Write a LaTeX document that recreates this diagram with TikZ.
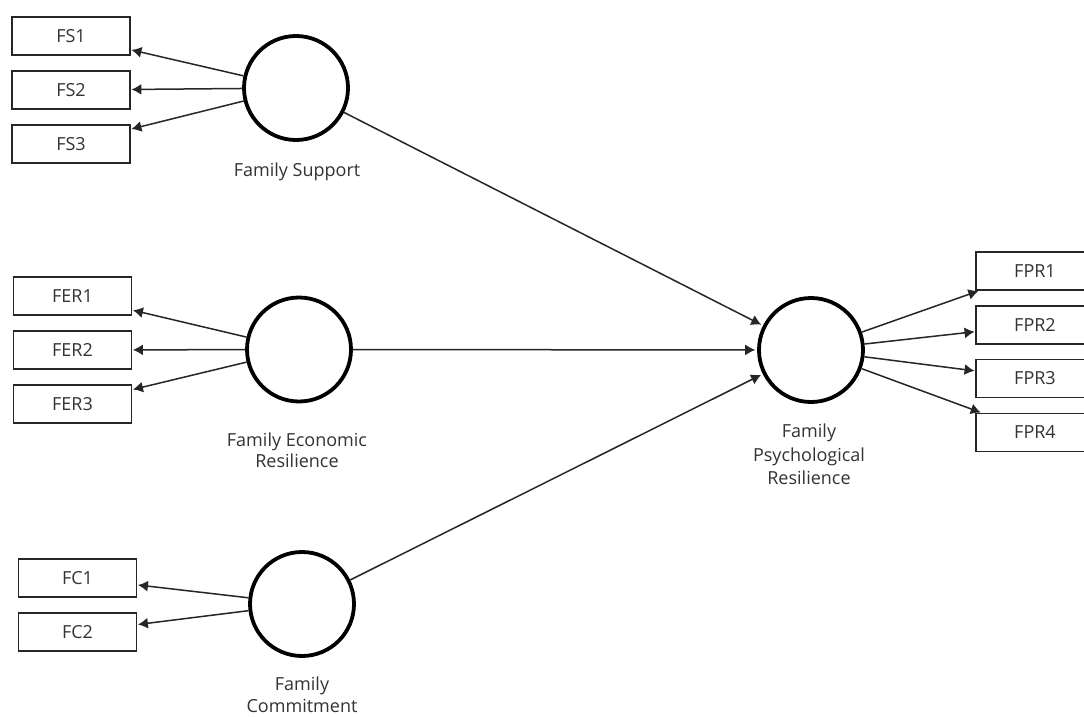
\documentclass[tikz,border=0pt]{standalone}
\usepackage{fontspec}
\setmainfont{Open Sans}
\usetikzlibrary{arrows.meta}
\definecolor{txt}{HTML}{333333}
\tikzset{
  ind/.style={draw=black!85, line width=1.5pt, minimum width=118pt, minimum height=38pt, inner sep=0pt, text=txt, font=\fontsize{18}{21}\selectfont},
  lat/.style={draw=black, circle, line width=3.8pt, minimum size=104pt, inner sep=0pt},
  lab/.style={text=txt, align=center, anchor=north, inner sep=0pt, font=\fontsize{18}{23.5}\selectfont},
  arr/.style={draw=black!85, line width=1.5pt, -{Latex[length=10pt,width=11pt]}, shorten >=0.7pt},
  sarr/.style={arr, shorten >=1.9pt},
}
\begin{document}
\begin{tikzpicture}[x=1pt,y=-1pt]
\useasboundingbox (0,0) rectangle (1084,717);
\clip (0,0) rectangle (1084,717);
\fill[white] (0,0) rectangle (1084,717);
% latent variables
\node[lat] (FS) at (296,88) {};
\node[lat] (FER) at (299,349.5) {};
\node[lat] (FC) at (302,604) {};
\node[lat] (FPR) at (811,350) {};
% labels
\node[lab] (lFS) at (297,163) {Family Support};
\node[lab, font=\fontsize{18}{20.5}\selectfont] (lFER) at (297,433) {Family Economic\\Resilience};
\node[lab, font=\fontsize{18}{22}\selectfont] (lFC) at (302,677) {Family\\Commitment};
\node[lab] (lFPR) at (809,424) {Family\\Psychological\\Resilience};
% indicators
\node[ind] (FS1) at (71,36) {FS1};
\node[ind] (FS2) at (71,90) {FS2};
\node[ind] (FS3) at (71,144) {FS3};
\node[ind] (FER1) at (72.5,296) {FER1};
\node[ind] (FER2) at (72.5,350) {FER2};
\node[ind] (FER3) at (72.5,404) {FER3};
\node[ind] (FC1) at (77.5,578) {FC1};
\node[ind] (FC2) at (77.5,632) {FC2};
\node[ind] (FPR1) at (1035,271) {FPR1};
\node[ind] (FPR2) at (1035,325) {FPR2};
\node[ind] (FPR3) at (1035,378.5) {FPR3};
\node[ind] (FPR4) at (1035,432.5) {FPR4};
% outer loadings
\foreach \i in {FS1,FS2,FS3} \draw[arr] (FS) -- (\i);
\foreach \i in {FER1,FER2,FER3} \draw[arr] (FER) -- (\i);
\foreach \i in {FC1,FC2} \draw[arr] (FC) -- (\i);
\foreach \i in {FPR1,FPR2,FPR3,FPR4} \draw[arr] (FPR) -- (\i);
% structural paths
\draw[sarr] (FS) -- (FPR);
\draw[sarr] (FER) -- (FPR);
\draw[sarr] (FC) -- (FPR);
\end{tikzpicture}
\end{document}
